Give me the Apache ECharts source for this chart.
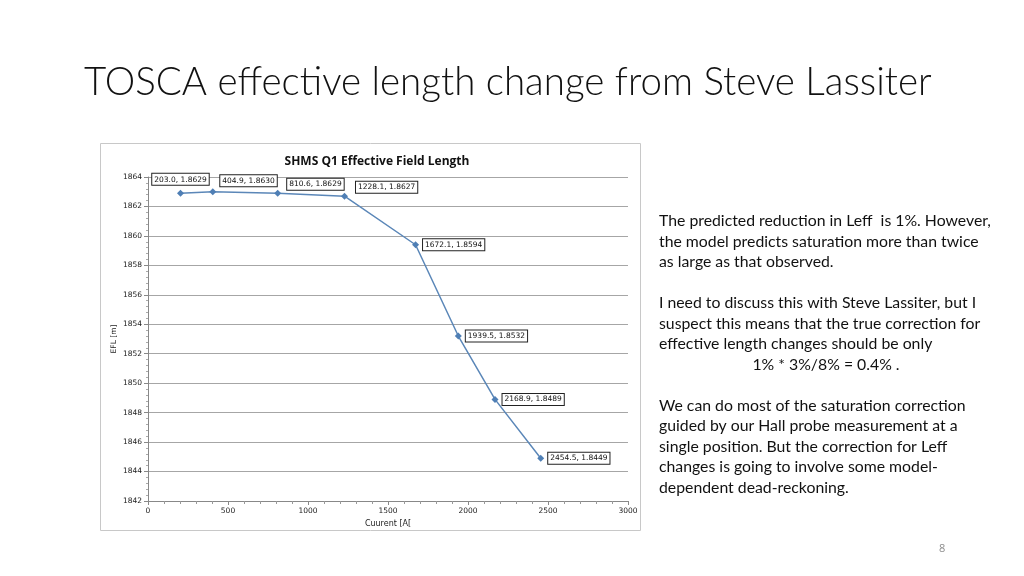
<!DOCTYPE html>
<html><head><meta charset="utf-8">
<script src="https://cdn.jsdelivr.net/npm/echarts@6/dist/echarts.min.js"></script>
<style>html,body{margin:0;padding:0;background:#fff}#c{width:1024px;height:576px}</style>
</head><body><div id="c"></div>
<script>
var currents = [203.0, 404.9, 810.6, 1228.1, 1672.1, 1939.5, 2168.9, 2454.5];
var efl = [1.8629, 1.8630, 1.8629, 1.8627, 1.8594, 1.8532, 1.8489, 1.8449];
var pointLabels = ['203.0, 1.8629','404.9, 1.8630','810.6, 1.8629','1228.1, 1.8627','1672.1, 1.8594','1939.5, 1.8532','2168.9, 1.8489','2454.5, 1.8449'];
var slideTitle = 'TOSCA effective length change from Steve Lassiter';
var chartTitle = 'SHMS Q1 Effective Field Length';
var xName = 'Cuurent [A[';
var yName = 'EFL [m]';
var bodyLines = [
  'The predicted reduction in Leff  is 1%. However,',
  'the model predicts saturation more than twice',
  'as large as that observed.',
  '',
  'I need to discuss this with Steve Lassiter, but I',
  'suspect this means that the true correction for',
  'effective length changes should be only',
  '1% * 3%/8% = 0.4% .',
  '',
  'We can do most of the saturation correction',
  'guided by our Hall probe measurement at a',
  'single position. But the correction for Leff',
  'changes is going to involve some model-',
  'dependent dead-reckoning.'
];
var pageNum = '8';

var labelPlace = [
  {position:'top', offset:[0,-1]},
  {position:'right', offset:[0,-11]},
  {position:'right', offset:[2,-9]},
  {position:'right', offset:[4,-9]},
  {position:'right', offset:[0,0]},
  {position:'right', offset:[0,0]},
  {position:'right', offset:[0,0]},
  {position:'right', offset:[0,0]}
];

var data = currents.map(function(x,i){
  return {value:[x, efl[i]], label:{show:true, position:labelPlace[i].position, offset:labelPlace[i].offset, formatter:pointLabels[i]}};
});

var graphics = [
  {type:'rect', shape:{x:100.5,y:143.5,width:540,height:387}, style:{fill:'none', stroke:'#c8c8c8', lineWidth:1}, z:-1},
  {type:'text', left:84, top:63, style:{text:slideTitle, font:'300 38.5px Lato', fill:'#111'}},
  {type:'text', left:939, top:543, style:{text:pageNum, font:'11px "Open Sans"', fill:'#8c8c8c'}}
];
var ly = 221, lh = 20.5;
bodyLines.forEach(function(t,i){
  if(!t) return;
  var centered = (i === 7);
  graphics.push({type:'text', x: centered?826:659, y: ly + i*lh,
    style:{text:t, font:'15.8px Lato', fill:'#111', textAlign: centered?'center':'left', textVerticalAlign:'middle'}});
});

var chart = echarts.init(document.getElementById('c'), null, {renderer:'canvas'});
chart.setOption({
  animation:false,
  backgroundColor:'#fff',
  title:{text:chartTitle, left:372, top:151, textAlign:'center',
    textStyle:{fontSize:12, fontWeight:'bold', color:'#111', fontFamily:'Open Sans'}},
  grid:{left:148, right:396, top:177, bottom:75},
  xAxis:{type:'value', min:0, max:3000, interval:500,
    name:xName, nameLocation:'middle', nameGap:16,
    nameTextStyle:{fontSize:8, color:'#222', fontFamily:'DejaVu Sans'},
    axisLine:{show:true, lineStyle:{color:'#888'}},
    axisTick:{show:true, length:4, inside:false, lineStyle:{color:'#888'}},
    minorTick:{show:true, splitNumber:5, length:3, lineStyle:{color:'#999'}},
    axisLabel:{fontSize:7.5, color:'#222', fontFamily:'DejaVu Sans', margin:6,
      formatter:function(v){return String(Math.round(v));}},
    splitLine:{show:false}},
  yAxis:{type:'value', min:1.842, max:1.864, interval:0.002,
    name:yName, nameLocation:'middle', nameGap:30, nameRotate:90,
    nameTextStyle:{fontSize:7.5, color:'#222', fontFamily:'DejaVu Sans'},
    axisLine:{show:true, lineStyle:{color:'#888'}},
    axisTick:{show:true, length:4, lineStyle:{color:'#888'}},
    minorTick:{show:true, splitNumber:5, length:2, lineStyle:{color:'#aaa'}},
    axisLabel:{fontSize:7.5, color:'#222', fontFamily:'DejaVu Sans', margin:6,
      formatter:function(v){return String(Math.round(v*1000));}},
    splitLine:{show:true, lineStyle:{color:'#a6a6a6', width:1}}},
  series:[{type:'line', data:data, symbol:'diamond', symbolSize:7,
    lineStyle:{color:'#5b87b8', width:1.5}, itemStyle:{color:'#4f7fb5'},
    label:{fontSize:7.5, color:'#111', fontFamily:'DejaVu Sans', backgroundColor:'#fff',
      borderColor:'#222', borderWidth:1, padding:[2,2,1,2], distance:4}}],
  graphic:graphics
});
</script></body></html>
